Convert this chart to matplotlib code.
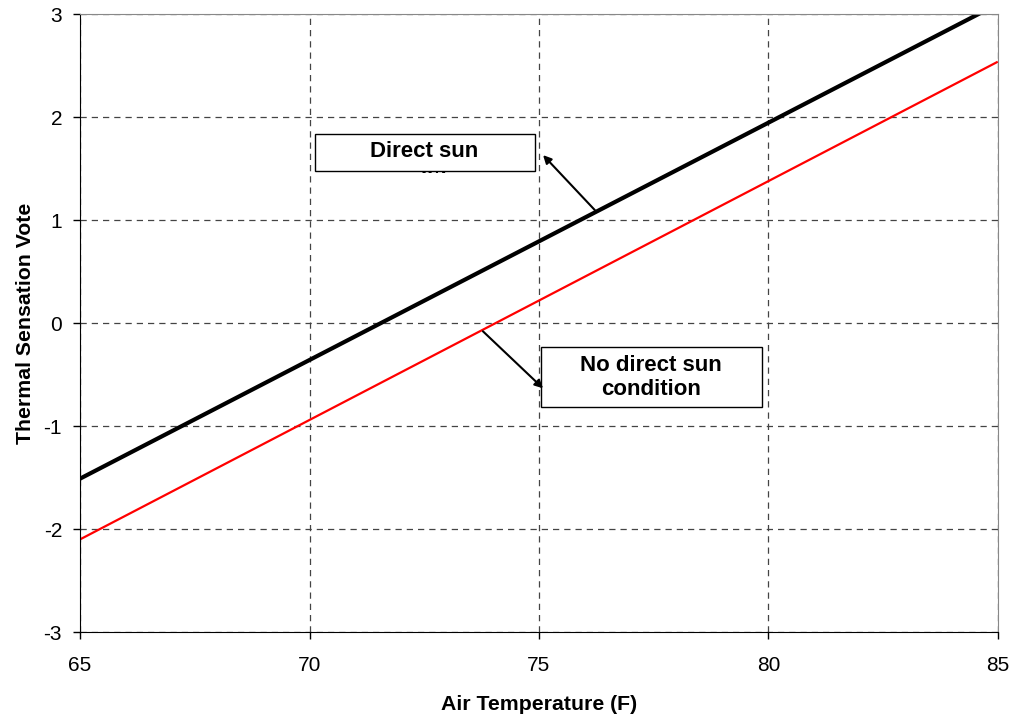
import numpy as np
import matplotlib
matplotlib.use("Agg")
from matplotlib import pyplot as plt
from matplotlib.patches import Rectangle
from matplotlib.transforms import Bbox, TransformedBbox

plt.rcParams['font.family'] = ['Liberation Sans', 'DejaVu Sans']
plt.rcParams['axes.unicode_minus'] = False

# air temperature (F) end points and thermal sensation votes
air_temp = [65, 85]
direct_sun = [-1.51, 3.10]
no_direct_sun = [-2.10, 2.54]

x_ticks = [65, 70, 75, 80, 85]
y_ticks = [-3, -2, -1, 0, 1, 2, 3]

fig = plt.figure(figsize=(10.14, 7.19), dpi=100)
ax = fig.add_axes([0.079, 0.121, 0.905, 0.859])

ax.plot(air_temp, direct_sun, color='black', lw=3, solid_capstyle='butt')
ax.plot(air_temp, no_direct_sun, color='red', lw=1.6, solid_capstyle='butt')

ax.set_xlim(65, 85)
ax.set_ylim(-3, 3)
ax.set_xticks(x_ticks)
ax.set_yticks(y_ticks)
ax.tick_params(labelsize=15, length=5, direction='out', width=1, pad=8)
ax.tick_params(axis='x', pad=12)
ax.grid(True, ls=(0, (5, 4)), color='#444444', lw=0.9)

for s in ['top', 'right']:
    ax.spines[s].set_color('#888888')
for s in ['left', 'bottom']:
    ax.spines[s].set_color('black')

ax.set_xlabel('Air Temperature (F)', fontsize=15.3, fontweight='bold', labelpad=15)
ax.set_ylabel('Thermal Sensation Vote', fontsize=15.3, fontweight='bold', labelpad=6)

# label boxes
box1 = Rectangle((70.12, 1.477), 4.79, 0.36, fill=True, facecolor='white',
                 edgecolor='black', lw=1, zorder=5)
ax.add_patch(box1)
ax.text(72.5, 1.614, 'Direct sun', ha='center', va='baseline',
        fontsize=16, fontweight='bold', zorder=6)
t1b = ax.text(72.5, 1.322, 'condition', ha='center', va='baseline',
              fontsize=16, fontweight='bold', zorder=6)
t1b.set_clip_box(TransformedBbox(Bbox([[70.12, 1.463], [74.91, 1.837]]), ax.transData))
t1b.set_clip_on(True)

box2 = Rectangle((75.04, -0.818), 4.82, 0.583, fill=True, facecolor='white',
                 edgecolor='black', lw=1, zorder=5)
ax.add_patch(box2)
ax.text(77.45, -0.525, 'No direct sun\ncondition', ha='center', va='center',
        fontsize=16, fontweight='bold', zorder=6, linespacing=1.2)

ax.annotate('', xy=(75.09, 1.633), xytext=(76.22, 1.098),
            arrowprops=dict(arrowstyle='-|>', color='black', lw=1.5,
                            mutation_scale=12, shrinkA=0, shrinkB=0), zorder=7)
ax.annotate('', xy=(75.09, -0.633), xytext=(73.78, -0.079),
            arrowprops=dict(arrowstyle='-|>', color='black', lw=1.5,
                            mutation_scale=12, shrinkA=0, shrinkB=0), zorder=7)

fig.savefig('out.png', dpi=100)
